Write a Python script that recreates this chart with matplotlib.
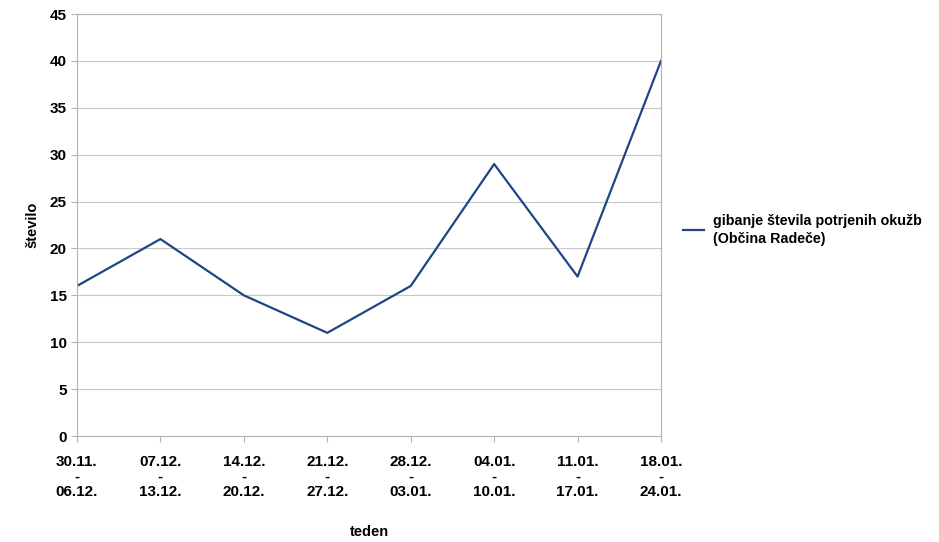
import matplotlib.pyplot as plt

plt.rcParams['font.family'] = ['Liberation Sans', 'DejaVu Sans']
plt.rcParams['font.weight'] = 'bold'

weeks = ["30.11.\n-\n06.12.", "07.12.\n-\n13.12.", "14.12.\n-\n20.12.", "21.12.\n-\n27.12.",
         "28.12.\n-\n03.01.", "04.01.\n-\n10.01.", "11.01.\n-\n17.01.", "18.01.\n-\n24.01."]
cases = [16, 21, 15, 11, 16, 29, 17, 40]

fig = plt.figure(figsize=(9.39, 5.42), dpi=100)
ax = fig.add_axes([77/939, 1 - 436/542, 584/939, 422/542])

x = list(range(len(weeks)))
ax.plot(x, cases, color='#1f4586', linewidth=1.6,
        label="gibanje števila potrjenih okužb\n(Občina Radeče)")

ax.set_xlim(0, len(weeks) - 1)
ax.set_ylim(0, 45)
ax.set_yticks(range(0, 46, 5))
ax.set_xticks(x)
ax.set_xticklabels(weeks, linespacing=1.07)
ax.tick_params(axis='both', labelsize=11, color='#b3b3b3', length=4, width=0.8)
ax.tick_params(axis='x', pad=10)
ax.grid(axis='y', color='#c8c8c8', linewidth=0.8)
ax.set_axisbelow(True)
for s in ax.spines.values():
    s.set_color('#b3b3b3')
    s.set_linewidth(0.8)

ax.set_ylabel("število", fontsize=10.5, fontweight='bold', labelpad=7)
ax.set_xlabel("teden", fontsize=10.5, fontweight='bold', labelpad=19)

leg = fig.legend(loc='center left', bbox_to_anchor=(670/939, 1 - 230/542), frameon=False,
                 fontsize=10.3, handlelength=1.5, handletextpad=0.6)
for t in leg.get_texts():
    t.set_linespacing(1.35)

fig.savefig("out.png", dpi=100)
